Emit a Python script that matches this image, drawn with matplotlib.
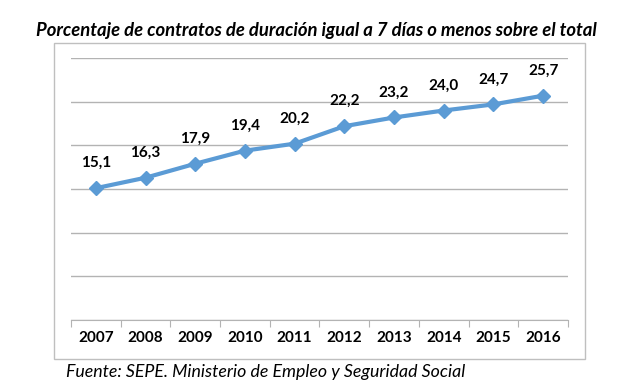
import matplotlib.pyplot as plt
from matplotlib.patches import Rectangle

# datos
years = ['2007', '2008', '2009', '2010', '2011', '2012', '2013', '2014', '2015', '2016']
values = [15.1, 16.3, 17.9, 19.4, 20.2, 22.2, 23.2, 24.0, 24.7, 25.7]
labels = ['15,1', '16,3', '17,9', '19,4', '20,2', '22,2', '23,2', '24,0', '24,7', '25,7']

title = 'Porcentaje de contratos de duración igual a 7 días o menos sobre el total'
source = 'Fuente: SEPE. Ministerio de Empleo y Seguridad Social'

plt.rcParams['font.family'] = ['Lato', 'DejaVu Sans']

fig = plt.figure(figsize=(6.32, 3.92), dpi=100)
ax = fig.add_axes([0.1123, 0.1837, 0.7864, 0.668])

# marco exterior del grafico
fig.patches.append(Rectangle((0.0854, 0.0842), 0.8402, 0.8058, transform=fig.transFigure,
                             fill=False, edgecolor='#bfbfbf', linewidth=1))

x = range(len(years))
ax.plot(x, values, color='#5b9bd5', linewidth=3, marker='D', markersize=7, zorder=3)
for xi, v, lab in zip(x, values, labels):
    ax.annotate(lab, (xi, v), xytext=(0, 13), textcoords='offset points',
                ha='center', va='bottom', fontsize=11, fontweight='bold')

ax.set_xlim(-0.5, len(years) - 0.5)
ax.set_ylim(0, 30)
ax.set_yticks(range(0, 31, 5))
ax.yaxis.grid(True, color='#b3b3b3', linewidth=1)
ax.set_axisbelow(True)
ax.tick_params(axis='y', left=False, labelleft=False)

ax.set_xticks([i - 0.5 for i in range(len(years) + 1)])
ax.set_xticklabels([])
ax.set_xticks(list(x), minor=True)
ax.set_xticklabels(years, minor=True, fontsize=11, fontweight='bold')
ax.tick_params(axis='x', which='major', length=5, color='#b3b3b3', direction='out')
ax.tick_params(axis='x', which='minor', length=0, pad=8)

for s in ['top', 'left', 'right']:
    ax.spines[s].set_visible(False)
ax.spines['bottom'].set_color('#b3b3b3')

fig.text(0.5, 0.922, title, ha='center', va='center', fontsize=13.3,
         fontweight='bold', fontstyle='italic')
fig.text(0.104, 0.05, source, ha='left', va='center', fontsize=12.8, fontstyle='italic')

fig.savefig('out.png', dpi=100)
